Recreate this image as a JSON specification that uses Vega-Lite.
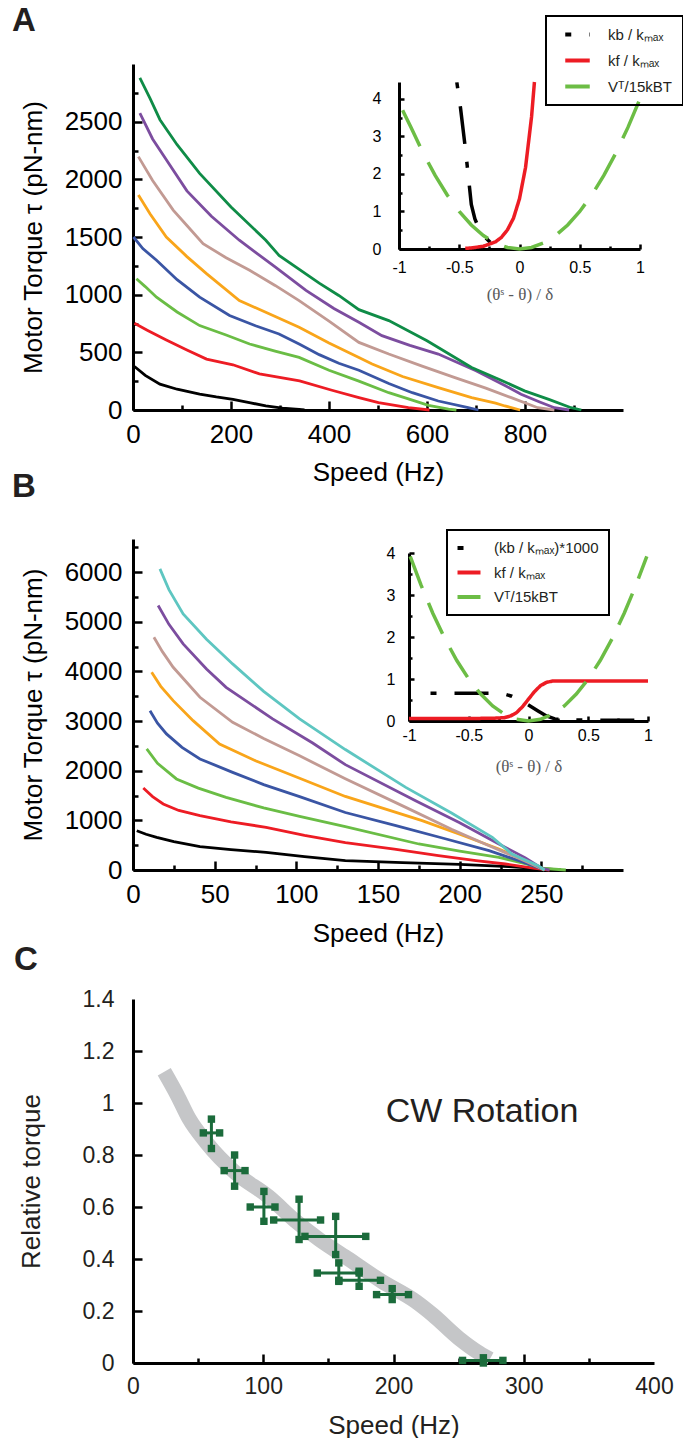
{
  "$schema": "https://vega.github.io/schema/vega-lite/v6.json",
  "bounds": "flush",
  "spacing": 129,
  "padding": {"left": 12, "top": 5, "right": 0, "bottom": 0},
  "datasets": {
    "A_main": [
      {"s":"1","speed":3,"torque":377},{"s":"1","speed":25,"torque":300},{"s":"1","speed":55,"torque":224},{"s":"1","speed":90,"torque":180},{"s":"1","speed":136,"torque":137},{"s":"1","speed":170,"torque":113},{"s":"1","speed":204,"torque":93},{"s":"1","speed":240,"torque":62},{"s":"1","speed":271,"torque":35},{"s":"1","speed":305,"torque":16},{"s":"1","speed":339,"torque":5},{"s":"1","speed":350,"torque":0},
      {"s":"2","speed":3,"torque":752},{"s":"2","speed":30,"torque":690},{"s":"2","speed":68,"torque":607},{"s":"2","speed":110,"torque":520},{"s":"2","speed":150,"torque":441},{"s":"2","speed":204,"torque":392},{"s":"2","speed":258,"torque":313},{"s":"2","speed":340,"torque":252},{"s":"2","speed":406,"torque":171},{"s":"2","speed":461,"torque":107},{"s":"2","speed":501,"torque":64},{"s":"2","speed":562,"torque":20},{"s":"2","speed":605,"torque":0},
      {"s":"3","speed":7,"torque":1138},{"s":"3","speed":25,"torque":1070},{"s":"3","speed":48,"torque":978},{"s":"3","speed":90,"torque":850},{"s":"3","speed":136,"torque":732},{"s":"3","speed":190,"torque":650},{"s":"3","speed":238,"torque":572},{"s":"3","speed":290,"torque":510},{"s":"3","speed":339,"torque":456},{"s":"3","speed":400,"torque":345},{"s":"3","speed":461,"torque":250},{"s":"3","speed":522,"torque":150},{"s":"3","speed":570,"torque":85},{"s":"3","speed":603,"torque":40},{"s":"3","speed":644,"torque":8},{"s":"3","speed":660,"torque":0},
      {"s":"4","speed":1,"torque":1500},{"s":"4","speed":20,"torque":1400},{"s":"4","speed":48,"torque":1298},{"s":"4","speed":90,"torque":1130},{"s":"4","speed":136,"torque":978},{"s":"4","speed":197,"torque":819},{"s":"4","speed":250,"torque":730},{"s":"4","speed":298,"torque":659},{"s":"4","speed":340,"torque":570},{"s":"4","speed":380,"torque":480},{"s":"4","speed":420,"torque":405},{"s":"4","speed":461,"torque":345},{"s":"4","speed":522,"torque":230},{"s":"4","speed":570,"torque":150},{"s":"4","speed":623,"torque":78},{"s":"4","speed":684,"torque":20},{"s":"4","speed":705,"torque":0},
      {"s":"5","speed":11,"torque":1864},{"s":"5","speed":35,"torque":1700},{"s":"5","speed":68,"torque":1500},{"s":"5","speed":110,"torque":1330},{"s":"5","speed":150,"torque":1182},{"s":"5","speed":217,"torque":949},{"s":"5","speed":280,"torque":830},{"s":"5","speed":339,"torque":717},{"s":"5","speed":400,"torque":580},{"s":"5","speed":461,"torque":456},{"s":"5","speed":488,"torque":398},{"s":"5","speed":550,"torque":290},{"s":"5","speed":623,"torque":194},{"s":"5","speed":691,"torque":107},{"s":"5","speed":740,"torque":60},{"s":"5","speed":759,"torque":35},{"s":"5","speed":790,"torque":0},
      {"s":"6","speed":11,"torque":2197},{"s":"6","speed":40,"torque":1990},{"s":"6","speed":82,"torque":1733},{"s":"6","speed":110,"torque":1600},{"s":"6","speed":143,"torque":1443},{"s":"6","speed":190,"torque":1320},{"s":"6","speed":238,"torque":1211},{"s":"6","speed":290,"torque":1080},{"s":"6","speed":339,"torque":949},{"s":"6","speed":400,"torque":770},{"s":"6","speed":461,"torque":586},{"s":"6","speed":522,"torque":485},{"s":"6","speed":590,"torque":380},{"s":"6","speed":657,"torque":281},{"s":"6","speed":720,"torque":190},{"s":"6","speed":772,"torque":107},{"s":"6","speed":826,"torque":20},{"s":"6","speed":860,"torque":0},
      {"s":"7","speed":14,"torque":2575},{"s":"7","speed":40,"torque":2350},{"s":"7","speed":68,"torque":2169},{"s":"7","speed":110,"torque":1900},{"s":"7","speed":160,"torque":1680},{"s":"7","speed":217,"torque":1472},{"s":"7","speed":290,"torque":1240},{"s":"7","speed":353,"torque":1037},{"s":"7","speed":410,"torque":880},{"s":"7","speed":461,"torque":760},{"s":"7","speed":508,"torque":645},{"s":"7","speed":565,"torque":560},{"s":"7","speed":623,"torque":485},{"s":"7","speed":700,"torque":340},{"s":"7","speed":760,"torque":210},{"s":"7","speed":792,"torque":137},{"s":"7","speed":830,"torque":70},{"s":"7","speed":860,"torque":20},{"s":"7","speed":890,"torque":0},
      {"s":"8","speed":14,"torque":2880},{"s":"8","speed":35,"torque":2700},{"s":"8","speed":55,"torque":2517},{"s":"8","speed":90,"torque":2300},{"s":"8","speed":136,"torque":2052},{"s":"8","speed":200,"torque":1760},{"s":"8","speed":271,"torque":1472},{"s":"8","speed":298,"torque":1341},{"s":"8","speed":380,"torque":1100},{"s":"8","speed":420,"torque":993},{"s":"8","speed":461,"torque":870},{"s":"8","speed":522,"torque":775},{"s":"8","speed":600,"torque":600},{"s":"8","speed":691,"torque":369},{"s":"8","speed":750,"torque":260},{"s":"8","speed":799,"torque":166},{"s":"8","speed":850,"torque":90},{"s":"8","speed":894,"torque":20},{"s":"8","speed":915,"torque":0}
    ],
    "A_inset": [
      {"f":"kb / kₘₐₓ","th":-0.52,"v":4.44},{"f":"kb / kₘₐₓ","th":-0.49,"v":3.77},{"f":"kb / kₘₐₓ","th":-0.45,"v":2.7},{"f":"kb / kₘₐₓ","th":-0.42,"v":1.8},{"f":"kb / kₘₐₓ","th":-0.4,"v":1.19},{"f":"kb / kₘₐₓ","th":-0.37,"v":0.8},{"f":"kb / kₘₐₓ","th":-0.33,"v":0.5},{"f":"kb / kₘₐₓ","th":-0.28,"v":0.3},{"f":"kb / kₘₐₓ","th":-0.24,"v":0.17},{"f":"kb / kₘₐₓ","th":-0.18,"v":0.08},{"f":"kb / kₘₐₓ","th":-0.1,"v":0.03},
      {"f":"kf / kₘₐₓ","th":-0.45,"v":0.018},{"f":"kf / kₘₐₓ","th":-0.4,"v":0.028},{"f":"kf / kₘₐₓ","th":-0.3,"v":0.073},{"f":"kf / kₘₐₓ","th":-0.2,"v":0.19},{"f":"kf / kₘₐₓ","th":-0.15,"v":0.31},{"f":"kf / kₘₐₓ","th":-0.1,"v":0.51},{"f":"kf / kₘₐₓ","th":-0.05,"v":0.82},{"f":"kf / kₘₐₓ","th":0,"v":1.34},{"f":"kf / kₘₐₓ","th":0.05,"v":2.17},{"f":"kf / kₘₐₓ","th":0.1,"v":3.52},{"f":"kf / kₘₐₓ","th":0.124,"v":4.45},
      {"f":"Vᵀ/15kBT","th":-0.97,"v":3.7},{"f":"Vᵀ/15kBT","th":-0.9,"v":3.24},{"f":"Vᵀ/15kBT","th":-0.8,"v":2.56},{"f":"Vᵀ/15kBT","th":-0.7,"v":1.96},{"f":"Vᵀ/15kBT","th":-0.6,"v":1.44},{"f":"Vᵀ/15kBT","th":-0.5,"v":1.0},{"f":"Vᵀ/15kBT","th":-0.4,"v":0.64},{"f":"Vᵀ/15kBT","th":-0.3,"v":0.36},{"f":"Vᵀ/15kBT","th":-0.2,"v":0.16},{"f":"Vᵀ/15kBT","th":-0.1,"v":0.04},{"f":"Vᵀ/15kBT","th":0,"v":0},{"f":"Vᵀ/15kBT","th":0.1,"v":0.04},{"f":"Vᵀ/15kBT","th":0.2,"v":0.16},{"f":"Vᵀ/15kBT","th":0.3,"v":0.36},{"f":"Vᵀ/15kBT","th":0.4,"v":0.64},{"f":"Vᵀ/15kBT","th":0.5,"v":1.0},{"f":"Vᵀ/15kBT","th":0.6,"v":1.44},{"f":"Vᵀ/15kBT","th":0.7,"v":1.96},{"f":"Vᵀ/15kBT","th":0.8,"v":2.56},{"f":"Vᵀ/15kBT","th":0.9,"v":3.24},{"f":"Vᵀ/15kBT","th":1.0,"v":4.0}
    ],
    "B_main": [
      {"s":"1","speed":2.3,"torque":792},{"s":"1","speed":8,"torque":720},{"s":"1","speed":14.5,"torque":657},{"s":"1","speed":25,"torque":570},{"s":"1","speed":41,"torque":470},{"s":"1","speed":60,"torque":410},{"s":"1","speed":81.5,"torque":355},{"s":"1","speed":105,"torque":270},{"s":"1","speed":130,"torque":188},{"s":"1","speed":165,"torque":150},{"s":"1","speed":200,"torque":115},{"s":"1","speed":230,"torque":70},{"s":"1","speed":255,"torque":15},{"s":"1","speed":262,"torque":0},
      {"s":"2","speed":6.3,"torque":1653},{"s":"2","speed":12,"torque":1480},{"s":"2","speed":18.5,"torque":1331},{"s":"2","speed":28,"torque":1200},{"s":"2","speed":41,"torque":1095},{"s":"2","speed":60,"torque":970},{"s":"2","speed":81.5,"torque":859},{"s":"2","speed":105,"torque":700},{"s":"2","speed":130,"torque":551},{"s":"2","speed":160,"torque":420},{"s":"2","speed":187,"torque":288},{"s":"2","speed":210,"torque":190},{"s":"2","speed":228,"torque":121},{"s":"2","speed":245,"torque":40},{"s":"2","speed":255,"torque":0},
      {"s":"3","speed":8.4,"torque":2440},{"s":"3","speed":15,"torque":2150},{"s":"3","speed":26.6,"torque":1835},{"s":"3","speed":40,"torque":1650},{"s":"3","speed":57,"torque":1464},{"s":"3","speed":80,"torque":1250},{"s":"3","speed":102,"torque":1080},{"s":"3","speed":130,"torque":873},{"s":"3","speed":175,"torque":524},{"s":"3","speed":200,"torque":380},{"s":"3","speed":224,"torque":254},{"s":"3","speed":240,"torque":130},{"s":"3","speed":252,"torque":30},{"s":"3","speed":265,"torque":0},
      {"s":"4","speed":10.4,"torque":3211},{"s":"4","speed":15,"torque":2960},{"s":"4","speed":20.5,"torque":2742},{"s":"4","speed":30,"torque":2470},{"s":"4","speed":41,"torque":2238},{"s":"4","speed":61,"torque":1968},{"s":"4","speed":80,"torque":1720},{"s":"4","speed":102,"torque":1480},{"s":"4","speed":130,"torque":1159},{"s":"4","speed":161,"torque":893},{"s":"4","speed":190,"torque":640},{"s":"4","speed":218,"torque":389},{"s":"4","speed":238,"torque":170},{"s":"4","speed":252,"torque":0},
      {"s":"5","speed":11.4,"torque":3984},{"s":"5","speed":17,"torque":3700},{"s":"5","speed":24.6,"torque":3413},{"s":"5","speed":36.8,"torque":3010},{"s":"5","speed":53,"torque":2540},{"s":"5","speed":75,"torque":2200},{"s":"5","speed":102,"torque":1850},{"s":"5","speed":130,"torque":1482},{"s":"5","speed":177,"torque":994},{"s":"5","speed":200,"torque":720},{"s":"5","speed":224,"torque":423},{"s":"5","speed":240,"torque":200},{"s":"5","speed":252,"torque":0},
      {"s":"6","speed":12.8,"torque":4690},{"s":"6","speed":18,"torque":4400},{"s":"6","speed":24.6,"torque":4085},{"s":"6","speed":41,"torque":3480},{"s":"6","speed":61,"torque":2976},{"s":"6","speed":80,"torque":2650},{"s":"6","speed":102,"torque":2300},{"s":"6","speed":130,"torque":1840},{"s":"6","speed":167,"torque":1262},{"s":"6","speed":195,"torque":820},{"s":"6","speed":218,"torque":490},{"s":"6","speed":240,"torque":180},{"s":"6","speed":252,"torque":0},
      {"s":"7","speed":15.4,"torque":5329},{"s":"7","speed":22,"torque":4950},{"s":"7","speed":30.7,"torque":4556},{"s":"7","speed":45,"torque":4050},{"s":"7","speed":57,"torque":3681},{"s":"7","speed":85.5,"torque":3044},{"s":"7","speed":110,"torque":2560},{"s":"7","speed":130,"torque":2123},{"s":"7","speed":173,"torque":1397},{"s":"7","speed":200,"torque":950},{"s":"7","speed":224,"torque":524},{"s":"7","speed":240,"torque":250},{"s":"7","speed":250,"torque":40},{"s":"7","speed":255,"torque":0},
      {"s":"8","speed":16.5,"torque":6069},{"s":"8","speed":22,"torque":5650},{"s":"8","speed":30.7,"torque":5161},{"s":"8","speed":45,"torque":4650},{"s":"8","speed":61,"torque":4153},{"s":"8","speed":80,"torque":3600},{"s":"8","speed":102,"torque":3044},{"s":"8","speed":130,"torque":2427},{"s":"8","speed":167,"torque":1665},{"s":"8","speed":195,"torque":1150},{"s":"8","speed":220,"torque":657},{"s":"8","speed":232,"torque":323},{"s":"8","speed":248,"torque":87},{"s":"8","speed":252,"torque":0}
    ],
    "B_inset": [
      {"f":"(kb / kₘₐₓ)*1000","th":-0.82,"v":0.66},{"f":"(kb / kₘₐₓ)*1000","th":-0.3,"v":0.66},{"f":"(kb / kₘₐₓ)*1000","th":-0.2,"v":0.64},{"f":"(kb / kₘₐₓ)*1000","th":-0.14,"v":0.59},{"f":"(kb / kₘₐₓ)*1000","th":-0.05,"v":0.47},{"f":"(kb / kₘₐₓ)*1000","th":0.03,"v":0.33},{"f":"(kb / kₘₐₓ)*1000","th":0.08,"v":0.24},{"f":"(kb / kₘₐₓ)*1000","th":0.15,"v":0.12},{"f":"(kb / kₘₐₓ)*1000","th":0.22,"v":0.05},{"f":"(kb / kₘₐₓ)*1000","th":0.3,"v":0.025},{"f":"(kb / kₘₐₓ)*1000","th":0.5,"v":0.02},{"f":"(kb / kₘₐₓ)*1000","th":1,"v":0.02},
      {"f":"kf / kₘₐₓ","th":-1,"v":0.06},{"f":"kf / kₘₐₓ","th":-0.5,"v":0.06},{"f":"kf / kₘₐₓ","th":-0.3,"v":0.065},{"f":"kf / kₘₐₓ","th":-0.2,"v":0.08},{"f":"kf / kₘₐₓ","th":-0.15,"v":0.12},{"f":"kf / kₘₐₓ","th":-0.1,"v":0.2},{"f":"kf / kₘₐₓ","th":-0.05,"v":0.34},{"f":"kf / kₘₐₓ","th":0,"v":0.52},{"f":"kf / kₘₐₓ","th":0.05,"v":0.7},{"f":"kf / kₘₐₓ","th":0.1,"v":0.84},{"f":"kf / kₘₐₓ","th":0.15,"v":0.92},{"f":"kf / kₘₐₓ","th":0.2,"v":0.95},{"f":"kf / kₘₐₓ","th":0.3,"v":0.955},{"f":"kf / kₘₐₓ","th":1,"v":0.955},
      {"f":"Vᵀ/15kBT","th":-0.99,"v":3.92},{"f":"Vᵀ/15kBT","th":-0.9,"v":3.24},{"f":"Vᵀ/15kBT","th":-0.8,"v":2.56},{"f":"Vᵀ/15kBT","th":-0.7,"v":1.96},{"f":"Vᵀ/15kBT","th":-0.6,"v":1.44},{"f":"Vᵀ/15kBT","th":-0.5,"v":1.0},{"f":"Vᵀ/15kBT","th":-0.4,"v":0.64},{"f":"Vᵀ/15kBT","th":-0.3,"v":0.36},{"f":"Vᵀ/15kBT","th":-0.2,"v":0.16},{"f":"Vᵀ/15kBT","th":-0.1,"v":0.04},{"f":"Vᵀ/15kBT","th":0,"v":0},{"f":"Vᵀ/15kBT","th":0.1,"v":0.04},{"f":"Vᵀ/15kBT","th":0.2,"v":0.16},{"f":"Vᵀ/15kBT","th":0.3,"v":0.36},{"f":"Vᵀ/15kBT","th":0.4,"v":0.64},{"f":"Vᵀ/15kBT","th":0.5,"v":1.0},{"f":"Vᵀ/15kBT","th":0.6,"v":1.44},{"f":"Vᵀ/15kBT","th":0.7,"v":1.96},{"f":"Vᵀ/15kBT","th":0.8,"v":2.56},{"f":"Vᵀ/15kBT","th":0.9,"v":3.24},{"f":"Vᵀ/15kBT","th":0.99,"v":3.92}
    ],
    "C_band": [
      {"speed":24,"t":1.12},{"speed":34,"t":1.03},{"speed":43,"t":0.94},{"speed":56,"t":0.85},{"speed":79,"t":0.73},{"speed":104,"t":0.64},{"speed":125,"t":0.545},{"speed":143,"t":0.475},{"speed":164,"t":0.405},{"speed":191,"t":0.314},{"speed":217,"t":0.237},{"speed":230,"t":0.186},{"speed":250,"t":0.096},{"speed":266,"t":0.038},{"speed":274,"t":0.015}
    ],
    "C_pts": [
      {"speed":60.2,"t":0.885,"xlo":54,"xhi":66.5,"ylo":0.825,"yhi":0.938},
      {"speed":78,"t":0.74,"xlo":70,"xhi":86,"ylo":0.68,"yhi":0.8},
      {"speed":100.5,"t":0.6,"xlo":90,"xhi":109,"ylo":0.545,"yhi":0.66},
      {"speed":127.5,"t":0.55,"xlo":108,"xhi":144,"ylo":0.475,"yhi":0.63},
      {"speed":155.6,"t":0.487,"xlo":132,"xhi":178.7,"ylo":0.417,"yhi":0.564},
      {"speed":158,"t":0.346,"xlo":141.5,"xhi":173.6,"ylo":0.314,"yhi":0.385},
      {"speed":173.6,"t":0.318,"xlo":158,"xhi":190,"ylo":0.295,"yhi":0.353},
      {"speed":199,"t":0.263,"xlo":187,"xhi":211.5,"ylo":0.244,"yhi":0.286},
      {"speed":269,"t":0.01,"xlo":253,"xhi":284,"ylo":0.0,"yhi":0.02}
    ],
    "C_label": [{"speed":194,"t":0.965,"label":"CW Rotation"}]
  },
  "vconcat": [
    {
      "width": 490, "height": 346,
      "title": {"text": "A", "anchor": "start", "frame": "group", "dx": -121, "dy": 27, "fontSize": 33, "fontWeight": "bold", "color": "#231f20"},
      "layer": [
        {
          "data": {"name": "A_main"},
          "mark": {"type": "line", "strokeWidth": 2.8},
          "encoding": {
            "x": {"field": "speed", "type": "quantitative", "scale": {"domain": [0, 1000], "nice": false},
              "axis": {"title": "Speed (Hz)", "values": [0,100,200,300,400,500,600,700,800,900], "format": "d",
                "labelExpr": "datum.value % 200 === 0 ? datum.label : ''",
                "tickSize": {"condition": {"test": "datum.value % 200 === 0", "value": -9}, "value": -5},
                "labelFontSize": 26, "titleFontSize": 26, "labelPadding": 20, "titlePadding": 8}},
            "y": {"field": "torque", "type": "quantitative", "scale": {"domain": [0, 3000], "nice": false},
              "axis": {"title": "Motor Torque τ (pN-nm)", "values": [0,250,500,750,1000,1250,1500,1750,2000,2250,2500,2750], "format": "d",
                "labelExpr": "datum.value % 500 === 0 ? datum.label : ''",
                "tickSize": {"condition": {"test": "datum.value % 500 === 0", "value": -9}, "value": -5},
                "labelFontSize": 26, "titleFontSize": 26, "labelPadding": 20, "titlePadding": 18}},
            "color": {"field": "s", "type": "nominal", "legend": null,
              "scale": {"domain": ["1","2","3","4","5","6","7","8"], "range": ["#000000","#ed1c24","#6abd45","#3a55a4","#f9a51a","#c29a93","#7c4d9f","#0f8c47"]}}
          }
        },
        {
          "data": {"name": "A_inset"},
          "mark": {"type": "line", "strokeWidth": 3.5},
          "encoding": {
            "x": {"field": "th", "type": "quantitative", "scale": {"domain": [-1, 1], "range": [266, 507], "nice": false, "zero": false},
              "axis": {"orient": "bottom", "offset": -161, "title": "(θˢ - θ) / δ", "titleFont": "Liberation Serif", "titleFontSize": 17, "titleColor": "#58595b", "titleFontWeight": "normal",
                "values": [-1,-0.75,-0.5,-0.25,0,0.25,0.5,0.75,1],
                "labelExpr": "datum.value % 0.5 === 0 ? (datum.value < 0 ? '-' : '') + format(abs(datum.value), '~g') : ''",
                "tickSize": {"condition": {"test": "datum.value % 0.5 === 0", "value": -5}, "value": -3},
                "labelFontSize": 16, "labelPadding": 15, "titlePadding": 9}},
            "y": {"field": "v", "type": "quantitative", "scale": {"domain": [0, 4.45], "range": [185, 18], "nice": false, "zero": false},
              "axis": {"orient": "left", "offset": -266, "title": null,
                "values": [0,0.5,1,1.5,2,2.5,3,3.5,4], "format": "~g",
                "labelExpr": "datum.value % 1 === 0 ? datum.label : ''",
                "tickSize": {"condition": {"test": "datum.value % 1 === 0", "value": -5}, "value": -3},
                "labelFontSize": 16, "labelPadding": 23}},
            "color": {"field": "f", "type": "nominal",
              "scale": {"domain": ["kb / kₘₐₓ","kf / kₘₐₓ","Vᵀ/15kBT"], "range": ["#000000","#ed1c24","#6cbd45"]},
              "legend": {"title": null, "orient": "none", "legendX": 413, "legendY": -48, "strokeColor": "#000000", "padding": 10, "symbolType": "M-2,0L2,0", "symbolSize": 150, "symbolOffset": 13, "symbolStrokeWidth": 4, "labelFontSize": 15, "labelOffset": 22, "rowPadding": 9, "labelColor": "#231f20"}},
            "strokeDash": {"field": "f", "type": "nominal",
              "scale": {"domain": ["kb / kₘₐₓ","kf / kₘₐₓ","Vᵀ/15kBT"], "range": [[6,18,38,18],[1,0],[40,18]]},
              "legend": {"title": null, "orient": "none", "legendX": 413, "legendY": -48, "strokeColor": "#000000", "padding": 10, "symbolType": "M-2,0L2,0", "symbolSize": 150, "symbolOffset": 13, "symbolStrokeWidth": 4, "labelFontSize": 15, "labelOffset": 22, "rowPadding": 9, "labelColor": "#231f20"}}
          }
        }
      ],
      "resolve": {"scale": {"x": "independent", "y": "independent", "color": "independent", "strokeDash": "independent"}, "axis": {"x": "independent", "y": "independent"}}
    },
    {
      "width": 490, "height": 331,
      "title": {"text": "B", "anchor": "start", "frame": "group", "dx": -121, "dy": -21, "fontSize": 33, "fontWeight": "bold", "color": "#231f20"},
      "layer": [
        {
          "data": {"name": "B_main"},
          "mark": {"type": "line", "strokeWidth": 2.8},
          "encoding": {
            "x": {"field": "speed", "type": "quantitative", "scale": {"domain": [0, 300], "nice": false},
              "axis": {"title": "Speed (Hz)", "values": [0,25,50,75,100,125,150,175,200,225,250,275], "format": "d",
                "labelExpr": "datum.value % 50 === 0 ? datum.label : ''",
                "tickSize": {"condition": {"test": "datum.value % 50 === 0", "value": -9}, "value": -5},
                "labelFontSize": 26, "titleFontSize": 26, "labelPadding": 20, "titlePadding": 9}},
            "y": {"field": "torque", "type": "quantitative", "scale": {"domain": [0, 6670], "nice": false},
              "axis": {"title": "Motor Torque τ (pN-nm)", "values": [0,500,1000,1500,2000,2500,3000,3500,4000,4500,5000,5500,6000,6500], "format": "d",
                "labelExpr": "datum.value % 1000 === 0 ? datum.label : ''",
                "tickSize": {"condition": {"test": "datum.value % 1000 === 0", "value": -9}, "value": -5},
                "labelFontSize": 26, "titleFontSize": 26, "labelPadding": 20, "titlePadding": 18}},
            "color": {"field": "s", "type": "nominal", "legend": null,
              "scale": {"domain": ["1","2","3","4","5","6","7","8"], "range": ["#000000","#ed1c24","#6abd45","#3a55a4","#f9a51a","#c29a93","#7c4d9f","#5ec6c1"]}}
          }
        },
        {
          "data": {"name": "B_inset"},
          "mark": {"type": "line", "strokeWidth": 3.5},
          "encoding": {
            "x": {"field": "th", "type": "quantitative", "scale": {"domain": [-1, 1], "range": [276, 515], "nice": false, "zero": false},
              "axis": {"orient": "bottom", "offset": -149, "title": "(θˢ - θ) / δ", "titleFont": "Liberation Serif", "titleFontSize": 17, "titleColor": "#58595b", "titleFontWeight": "normal",
                "values": [-1,-0.75,-0.5,-0.25,0,0.25,0.5,0.75,1],
                "labelExpr": "datum.value % 0.5 === 0 ? (datum.value < 0 ? '-' : '') + format(abs(datum.value), '~g') : ''",
                "tickSize": {"condition": {"test": "datum.value % 0.5 === 0", "value": -5}, "value": -3},
                "labelFontSize": 16, "labelPadding": 11, "titlePadding": 13}},
            "y": {"field": "v", "type": "quantitative", "scale": {"domain": [0, 4], "range": [182, 14], "nice": false, "zero": false},
              "axis": {"orient": "left", "offset": -276, "title": null,
                "values": [0,0.5,1,1.5,2,2.5,3,3.5,4], "format": "~g",
                "labelExpr": "datum.value % 1 === 0 ? datum.label : ''",
                "tickSize": {"condition": {"test": "datum.value % 1 === 0", "value": -5}, "value": -3},
                "labelFontSize": 16, "labelPadding": 19}},
            "color": {"field": "f", "type": "nominal",
              "scale": {"domain": ["(kb / kₘₐₓ)*1000","kf / kₘₐₓ","Vᵀ/15kBT"], "range": ["#000000","#ed1c24","#6cbd45"]},
              "legend": {"title": null, "orient": "none", "legendX": 314, "legendY": -9, "strokeColor": "#000000", "padding": 10, "symbolType": "M-2,0L2,0", "symbolSize": 132, "symbolOffset": 4, "symbolStrokeWidth": 4, "labelFontSize": 15, "labelOffset": 17, "rowPadding": 8.5, "labelColor": "#231f20"}},
            "strokeDash": {"field": "f", "type": "nominal",
              "scale": {"domain": ["(kb / kₘₐₓ)*1000","kf / kₘₐₓ","Vᵀ/15kBT"], "range": [[6,18,34,18],[1,0],[34,16]]},
              "legend": {"title": null, "orient": "none", "legendX": 314, "legendY": -9, "strokeColor": "#000000", "padding": 10, "symbolType": "M-2,0L2,0", "symbolSize": 132, "symbolOffset": 4, "symbolStrokeWidth": 4, "labelFontSize": 15, "labelOffset": 17, "rowPadding": 8.5, "labelColor": "#231f20"}}
          }
        }
      ],
      "resolve": {"scale": {"x": "independent", "y": "independent", "color": "independent", "strokeDash": "independent"}, "axis": {"x": "independent", "y": "independent"}}
    },
    {
      "width": 521, "height": 364,
      "title": {"text": "C", "anchor": "start", "frame": "group", "dx": -119, "dy": -7, "fontSize": 33, "fontWeight": "bold", "color": "#231f20"},
      "layer": [
        {
          "data": {"name": "C_band"},
          "mark": {"type": "line", "strokeWidth": 15, "color": "#c5c6c8", "strokeCap": "butt", "interpolate": "monotone"},
          "encoding": {
            "x": {"field": "speed", "type": "quantitative", "scale": {"domain": [0, 400], "nice": false},
              "axis": {"title": "Speed (Hz)", "values": [0,50,100,150,200,250,300,350,400], "format": "d",
                "labelExpr": "datum.value % 100 === 0 ? datum.label : ''",
                "tickSize": {"condition": {"test": "datum.value % 100 === 0", "value": -9}, "value": -5},
                "tickOpacity": {"condition": {"test": "datum.value >= 400", "value": 0}, "value": 1},
                "labelFontSize": 23, "titleFontSize": 26, "labelPadding": 21, "titlePadding": 10, "labelColor": "#231f20", "titleColor": "#231f20"}},
            "y": {"field": "t", "type": "quantitative", "scale": {"domain": [0, 1.4], "nice": false},
              "axis": {"title": "Relative torque", "values": [0,0.1,0.2,0.3,0.4,0.5,0.6,0.7,0.8,0.9,1,1.1,1.2,1.3,1.4], "format": "~g",
                "labelExpr": "round(datum.value * 10) % 2 === 0 ? datum.label : ''",
                "tickSize": {"condition": {"test": "round(datum.value * 10) % 2 === 0", "value": -9}, "value": -5},
                "tickOpacity": {"condition": {"test": "datum.value > 1.35", "value": 0}, "value": 1},
                "labelFontSize": 23, "titleFontSize": 26, "labelPadding": 28, "titlePadding": 38, "labelColor": "#231f20", "titleColor": "#231f20"}}
          }
        },
        {
          "data": {"name": "C_pts"},
          "mark": {"type": "rule", "color": "#1b6b3b", "strokeWidth": 3},
          "encoding": {
            "x": {"field": "xlo", "type": "quantitative"},
            "x2": {"field": "xhi"},
            "y": {"field": "t", "type": "quantitative"}
          }
        },
        {
          "data": {"name": "C_pts"},
          "mark": {"type": "rule", "color": "#1b6b3b", "strokeWidth": 3},
          "encoding": {
            "x": {"field": "speed", "type": "quantitative"},
            "y": {"field": "ylo", "type": "quantitative"},
            "y2": {"field": "yhi"}
          }
        },
        {
          "data": {"name": "C_pts"},
          "mark": {"type": "square", "filled": true, "color": "#1b6b3b", "size": 55, "opacity": 1},
          "encoding": {"x": {"field": "xlo", "type": "quantitative"}, "y": {"field": "t", "type": "quantitative"}}
        },
        {
          "data": {"name": "C_pts"},
          "mark": {"type": "square", "filled": true, "color": "#1b6b3b", "size": 55, "opacity": 1},
          "encoding": {"x": {"field": "xhi", "type": "quantitative"}, "y": {"field": "t", "type": "quantitative"}}
        },
        {
          "data": {"name": "C_pts"},
          "mark": {"type": "square", "filled": true, "color": "#1b6b3b", "size": 55, "opacity": 1},
          "encoding": {"x": {"field": "speed", "type": "quantitative"}, "y": {"field": "ylo", "type": "quantitative"}}
        },
        {
          "data": {"name": "C_pts"},
          "mark": {"type": "square", "filled": true, "color": "#1b6b3b", "size": 55, "opacity": 1},
          "encoding": {"x": {"field": "speed", "type": "quantitative"}, "y": {"field": "yhi", "type": "quantitative"}}
        },
        {
          "data": {"name": "C_label"},
          "mark": {"type": "text", "align": "left", "baseline": "middle", "fontSize": 34, "color": "#231f20"},
          "encoding": {"x": {"field": "speed", "type": "quantitative"}, "y": {"field": "t", "type": "quantitative"}, "text": {"field": "label"}}
        }
      ]
    }
  ],
  "config": {
    "font": "Liberation Sans",
    "view": {"stroke": null},
    "axis": {"grid": false, "domainColor": "#000000", "domainWidth": 3, "tickColor": "#000000", "tickWidth": 2.5, "labelColor": "#000000", "titleColor": "#000000", "labelFont": "Liberation Sans", "titleFont": "Liberation Sans", "labelFlush": false, "labelOverlap": false, "titleFontWeight": "normal"},
    "legend": {"strokeWidth": 2}
  }
}
